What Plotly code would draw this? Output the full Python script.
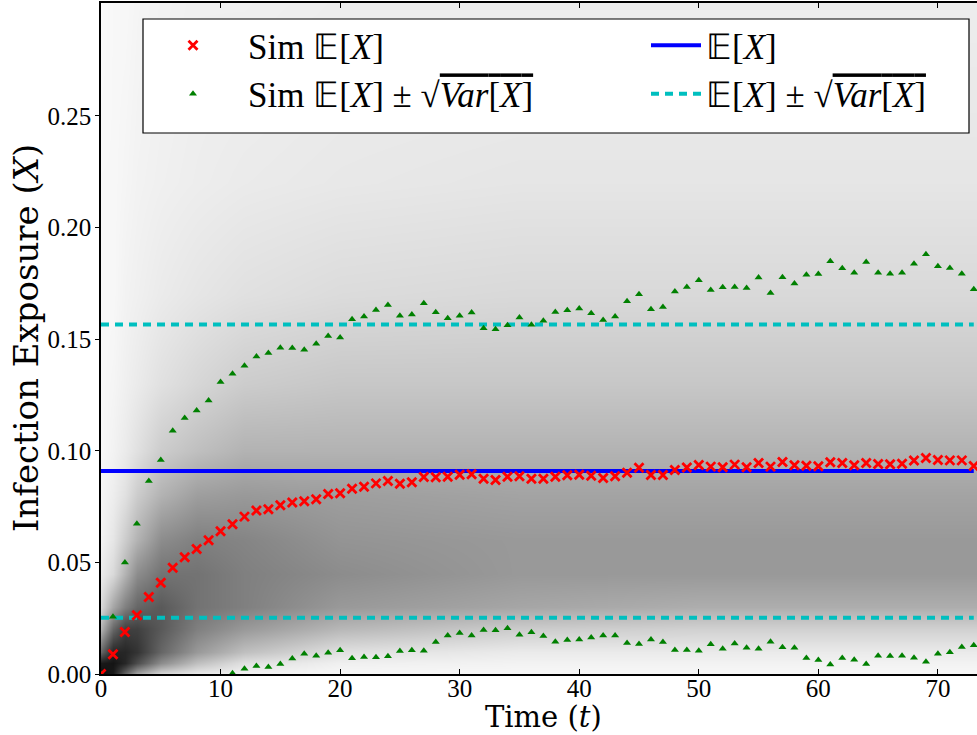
import plotly.graph_objects as go

# ---------------- data ----------------
times = list(range(0, 74))

sim_mean = [
    0.0000, 0.0088, 0.0188, 0.0263, 0.0345, 0.0409, 0.0476, 0.0523, 0.0560, 0.0599,
    0.0639, 0.0671, 0.0705, 0.0732, 0.0738, 0.0756, 0.0768, 0.0774, 0.0783, 0.0806,
    0.0810, 0.0830, 0.0839, 0.0854, 0.0865, 0.0852, 0.0859, 0.0883, 0.0881, 0.0884,
    0.0893, 0.0895, 0.0875, 0.0869, 0.0884, 0.0886, 0.0875, 0.0875, 0.0884, 0.0890,
    0.0893, 0.0888, 0.0878, 0.0886, 0.0902, 0.0924, 0.0892, 0.0892, 0.0914, 0.0925,
    0.0936, 0.0929, 0.0926, 0.0938, 0.0926, 0.0945, 0.0929, 0.0950, 0.0935, 0.0933,
    0.0931, 0.0949, 0.0945, 0.0935, 0.0945, 0.0941, 0.0940, 0.0942, 0.0956, 0.0968,
    0.0959, 0.0957, 0.0957, 0.0932,
]

sim_upper = [
    0.0000, 0.0257, 0.0499, 0.0673, 0.0865, 0.0959, 0.1090, 0.1147, 0.1180, 0.1225,
    0.1308, 0.1345, 0.1381, 0.1422, 0.1438, 0.1462, 0.1461, 0.1453, 0.1480, 0.1514,
    0.1507, 0.1589, 0.1601, 0.1631, 0.1653, 0.1605, 0.1611, 0.1661, 0.1621, 0.1594,
    0.1605, 0.1619, 0.1549, 0.1544, 0.1562, 0.1597, 0.1565, 0.1583, 0.1622, 0.1629,
    0.1637, 0.1616, 0.1586, 0.1601, 0.1670, 0.1701, 0.1634, 0.1644, 0.1713, 0.1734,
    0.1764, 0.1720, 0.1733, 0.1734, 0.1729, 0.1776, 0.1707, 0.1777, 0.1749, 0.1789,
    0.1792, 0.1849, 0.1818, 0.1798, 0.1846, 0.1797, 0.1793, 0.1798, 0.1838, 0.1880,
    0.1827, 0.1819, 0.1793, 0.1724,
]

sim_lower = [
    0.0000, None, None, None, None, None, None, None, None, None,
    None, 0.0003, 0.0024, 0.0036, 0.0031, 0.0045, 0.0069, 0.0091, 0.0082, 0.0095,
    0.0106, 0.0070, 0.0076, 0.0075, 0.0079, 0.0103, 0.0106, 0.0104, 0.0143, 0.0172,
    0.0184, 0.0173, 0.0197, 0.0196, 0.0205, 0.0176, 0.0187, 0.0170, 0.0145, 0.0152,
    0.0154, 0.0164, 0.0173, 0.0173, 0.0139, 0.0134, 0.0155, 0.0143, 0.0108, 0.0107,
    0.0104, 0.0133, 0.0113, 0.0137, 0.0118, 0.0113, 0.0145, 0.0120, 0.0118, 0.0072,
    0.0063, 0.0043, 0.0072, 0.0064, 0.0045, 0.0082, 0.0081, 0.0082, 0.0073, 0.0055,
    0.0091, 0.0097, 0.0121, 0.0129,
]

theory_mean = 0.0909
theory_sd = 0.0657

# background density of simulated trajectories (darkness 0..1)
bg_times = [0, 1, 2, 3, 5, 8, 12, 20, 35, 50, 74]
bg_levels = [0, 0.005, 0.01, 0.02, 0.03, 0.045, 0.06, 0.08, 0.10, 0.13, 0.17, 0.22, 0.30]
bg_darkness = [
    [0.95, 0.90, 0.60, 0.35, 0.15, 0.08, 0.05, 0.03, 0.03, 0.03, 0.03],
    [0.90, 0.92, 0.85, 0.70, 0.45, 0.25, 0.12, 0.06, 0.05, 0.05, 0.05],
    [0.60, 0.85, 0.85, 0.80, 0.60, 0.40, 0.25, 0.12, 0.08, 0.08, 0.08],
    [0.30, 0.60, 0.75, 0.75, 0.65, 0.50, 0.40, 0.28, 0.20, 0.18, 0.18],
    [0.15, 0.35, 0.50, 0.60, 0.65, 0.55, 0.50, 0.40, 0.35, 0.32, 0.32],
    [0.08, 0.15, 0.30, 0.45, 0.55, 0.55, 0.50, 0.45, 0.40, 0.40, 0.40],
    [0.05, 0.10, 0.20, 0.30, 0.45, 0.50, 0.48, 0.42, 0.40, 0.40, 0.40],
    [0.04, 0.07, 0.12, 0.20, 0.30, 0.38, 0.40, 0.38, 0.36, 0.36, 0.36],
    [0.03, 0.05, 0.08, 0.12, 0.20, 0.25, 0.30, 0.30, 0.30, 0.30, 0.30],
    [0.03, 0.04, 0.06, 0.08, 0.12, 0.16, 0.20, 0.22, 0.22, 0.22, 0.22],
    [0.03, 0.03, 0.05, 0.06, 0.08, 0.10, 0.12, 0.14, 0.15, 0.15, 0.15],
    [0.03, 0.03, 0.04, 0.05, 0.06, 0.07, 0.08, 0.09, 0.10, 0.10, 0.10],
    [0.02, 0.03, 0.03, 0.04, 0.05, 0.06, 0.06, 0.07, 0.07, 0.07, 0.07],
]

x_ticks = [0, 10, 20, 30, 40, 50, 60, 70]
y_ticks = [0.00, 0.05, 0.10, 0.15, 0.20, 0.25]
y_tick_text = ["0.00", "0.05", "0.10", "0.15", "0.20", "0.25"]

# ---------------- figure ----------------
TICK_FONT = dict(family="Liberation Serif", size=25, color="black")
LEG_FONT = dict(family="Liberation Serif", size=35, color="black")

E = "\U0001D53C"
name_sim_mean = f"Sim {E}[<i>X</i>]"
name_sim_pm = (f"Sim {E}[<i>X</i>] ± √<span style='text-decoration:overline'>"
               f"<i>Var</i>[<i>X</i>]</span>")
name_mean = f"{E}[<i>X</i>]"
name_pm = (f"{E}[<i>X</i>] ± √<span style='text-decoration:overline'>"
           f"<i>Var</i>[<i>X</i>]</span>")

fig = go.Figure()

fig.add_trace(go.Heatmap(
    x=bg_times, y=bg_levels, z=bg_darkness, zmin=0, zmax=1,
    colorscale=[[0, "#ffffff"], [1, "#000000"]], showscale=False,
    zsmooth="best", hoverinfo="skip", showlegend=False,
))

n = len(times)
fig.add_trace(go.Scatter(
    x=times, y=[theory_mean] * n, mode="lines",
    line=dict(color="#0000ff", width=4), name=name_mean,
    legend="legend2", legendgroup="m", legendrank=1,
))
fig.add_trace(go.Scatter(
    x=times, y=[theory_mean + theory_sd] * n, mode="lines",
    line=dict(color="#00bfbf", width=4, dash="8px,6px"), name=name_pm,
    legend="legend2", legendgroup="pm", legendrank=2,
))
fig.add_trace(go.Scatter(
    x=times, y=[theory_mean - theory_sd] * n, mode="lines",
    line=dict(color="#00bfbf", width=4, dash="8px,6px"), name=name_pm,
    legend="legend2", legendgroup="pm", showlegend=False,
))
fig.add_trace(go.Scatter(
    x=times, y=sim_upper, mode="markers",
    marker=dict(symbol="triangle-up", size=7, color="#008000", line=dict(width=0)),
    name=name_sim_pm, legend="legend", legendgroup="spm", legendrank=2,
))
fig.add_trace(go.Scatter(
    x=times, y=sim_lower, mode="markers",
    marker=dict(symbol="triangle-up", size=7, color="#008000", line=dict(width=0)),
    name=name_sim_pm, legend="legend", legendgroup="spm", showlegend=False,
))
fig.add_trace(go.Scatter(
    x=times, y=sim_mean, mode="markers",
    marker=dict(symbol="x-thin", size=9, color="#ff0000",
                line=dict(width=2.8, color="#ff0000")),
    name=name_sim_mean, legend="legend", legendgroup="sm", legendrank=1,
))

W, H = 977, 735
ML, MR, MT, MB = 101, 0, 3, 61
pw = W - ML - MR
ph = H - MT - MB


def px_x(p):
    return (p - ML) / pw


def px_y(p):
    return (H - MB - p) / ph


legend_common = dict(
    font=LEG_FONT, bgcolor="rgba(0,0,0,0)", borderwidth=0,
    orientation="v", xanchor="left", yanchor="top",
    tracegroupgap=20, traceorder="normal",
    itemclick=False, itemdoubleclick=False,
)

fig.update_layout(
    width=W, height=H,
    margin=dict(l=ML, r=MR, t=MT, b=MB, pad=0),
    paper_bgcolor="white", plot_bgcolor="white",
    showlegend=True,
    legend=dict(x=px_x(138), y=px_y(16), itemwidth=100, **legend_common),
    legend2=dict(x=px_x(646), y=px_y(16), itemwidth=50, **legend_common),
    xaxis=dict(
        range=[0, 73.27], tickvals=x_ticks, ticks="inside", ticklen=5,
        tickwidth=1.2, tickcolor="black", showline=True, linecolor="black",
        linewidth=1.5, mirror="ticks", showgrid=False, zeroline=False,
        tickfont=TICK_FONT, automargin=False, ticklabelstandoff=-9,
    ),
    yaxis=dict(
        range=[0, 0.3006], tickvals=y_ticks, ticktext=y_tick_text,
        ticks="outside", ticklen=4, tickwidth=1.2, tickcolor="black",
        showline=True, linecolor="black", linewidth=1.5, mirror=False,
        showgrid=False, zeroline=False, tickfont=TICK_FONT, automargin=False,
        ticklabelstandoff=-1,
    ),
    annotations=[
        dict(text="Time (<i>t</i>)", xref="paper", yref="paper",
             x=px_x(543), y=px_y(735), xanchor="center", yanchor="bottom",
             showarrow=False, borderpad=0,
             font=dict(family="DejaVu Serif", size=29, color="black")),
        dict(text="Infection Exposure (<i>X</i>)", xref="paper", yref="paper",
             x=px_x(26), y=px_y(338), xanchor="center", yanchor="middle",
             textangle=-90, showarrow=False,
             font=dict(family="DejaVu Serif", size=34, color="black")),
    ],
    shapes=[
        dict(type="rect", xref="paper", yref="paper",
             x0=px_x(143), x1=px_x(969), y0=px_y(133), y1=px_y(19),
             line=dict(color="black", width=1.2), fillcolor="white", layer="above"),
    ],
)

fig.write_html("out.html")
